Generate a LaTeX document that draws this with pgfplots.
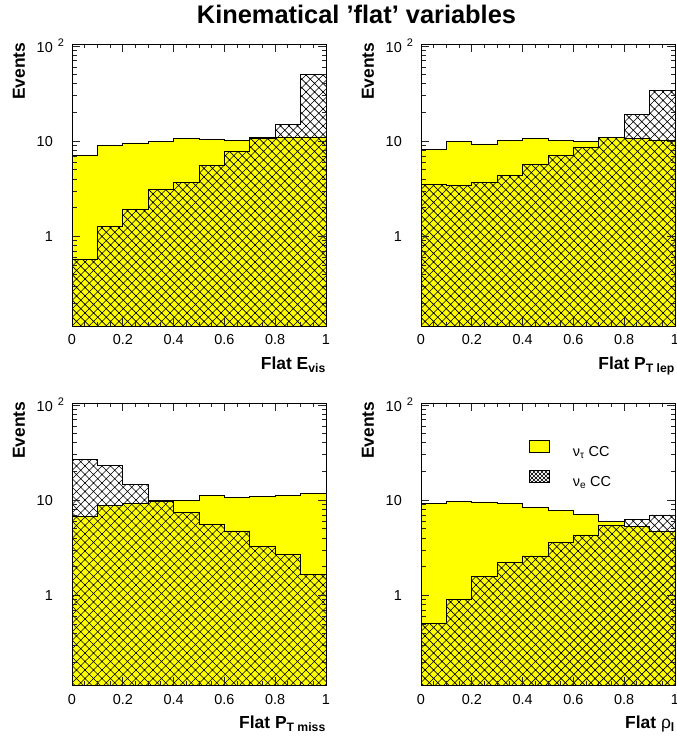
\documentclass[border=0pt]{standalone}
\usepackage{fontspec}
\setmainfont{Liberation Sans}
\usepackage{pgfplots}
\pgfplotsset{compat=1.18}
\usepackage{pgfplotstable}
\usetikzlibrary{patterns}
\definecolor{rootyellow}{RGB}{255,255,0}

\pgfdeclarepatternformonly{bigcross}{\pgfqpoint{-1bp}{-1bp}}{\pgfqpoint{9.5bp}{9.5bp}}{\pgfqpoint{8.5bp}{8.5bp}}{%
  \pgfsetlinewidth{0.7bp}%
  \pgfpathmoveto{\pgfqpoint{-0.5bp}{-0.5bp}}\pgfpathlineto{\pgfqpoint{9bp}{9bp}}%
  \pgfpathmoveto{\pgfqpoint{-0.5bp}{9bp}}\pgfpathlineto{\pgfqpoint{9bp}{-0.5bp}}%
  \pgfusepath{stroke}}
\pgfdeclarepatternformonly{smallcross}{\pgfqpoint{-1bp}{-1bp}}{\pgfqpoint{5bp}{5bp}}{\pgfqpoint{4bp}{4bp}}{%
  \pgfsetlinewidth{0.5bp}%
  \pgfpathmoveto{\pgfqpoint{-0.5bp}{-0.5bp}}\pgfpathlineto{\pgfqpoint{4.5bp}{4.5bp}}%
  \pgfpathmoveto{\pgfqpoint{-0.5bp}{4.5bp}}\pgfpathlineto{\pgfqpoint{4.5bp}{-0.5bp}}%
  \pgfusepath{stroke}}

% bins of width 0.1; last row repeats the last bin to close the step
\pgfplotstableread{
x   ya   ha    yb   hb   yc   hc   yd   hd
0.0 7.07 0.578 8.18 3.50 6.73 26.6 9.17 0.508
0.1 9.07 1.27  10.0 3.42 8.73 23.0 9.70 0.916
0.2 9.60 1.94  9.38 3.70 9.32 14.5 9.60 1.57
0.3 9.93 3.15  10.2 4.39 9.90 9.80 9.32 2.21
0.4 10.7 3.70  10.8 5.69 9.93 7.43 8.46 2.60
0.5 10.4 5.55  10.2 7.13 11.2 5.60 7.80 3.59
0.6 10.2 7.85  9.85 8.52 10.7 4.76 7.07 4.32
0.7 10.9 10.8  11.0 10.9 10.9 3.26 5.97 5.47
0.8 11.1 15.0  10.8 19.1 11.2 2.71 5.28 6.32
0.9 11.1 50.4  10.2 33.9 11.7 1.68 4.68 7.02
1.0 11.1 50.4  10.2 33.9 11.7 1.68 4.68 7.02
}\data

\pgfplotsset{
    log origin y=infty,
    xmin=0, xmax=1, ymin=0.115, ymax=105,
    scale only axis, width=254bp, height=282bp,
    axis on top, tick align=inside,
    xtick={0,0.2,0.4,0.6,0.8,1}, xticklabels={0,0.2,0.4,0.6,0.8,1},
    minor xtick={0.05,0.1,0.15,0.25,0.3,0.35,0.45,0.5,0.55,0.65,0.7,0.75,0.85,0.9,0.95},
    ytick={1,10,100},
    yticklabels={1,10,{10\rlap{\hspace{5bp}\raisebox{6bp}{\fontsize{11}{11}\selectfont 2}}}},
    minor ytick={0.2,0.3,0.4,0.5,0.6,0.7,0.8,0.9,2,3,4,5,6,7,8,9,20,30,40,50,60,70,80,90},
    major tick length=8bp, minor tick length=4.5bp,
    every tick/.style={black!85, line width=0.9bp},
    axis line style={black, line width=0.9bp},
    ticklabel style={font=\fontsize{14.5}{16}\selectfont},
    xticklabel style={anchor=base, inner sep=0pt, yshift=-19bp},
    yticklabel style={anchor=east, inner sep=0pt, xshift=-19bp},
    ylabel={Events},
    ylabel style={at={(axis description cs:-0.209,1.006)}, anchor=east, inner sep=0pt,
      font=\fontsize{17.5}{17.5}\selectfont\bfseries},
    xlabel style={at={(axis description cs:1,-0.156)}, anchor=base east, inner sep=0pt,
      font=\fontsize{17.5}{17.5}\selectfont\bfseries},
}

\begin{document}
\begin{tikzpicture}
\useasboundingbox (0,0) rectangle (677bp,738bp);
\node[font=\fontsize{25.5}{25.5}\selectfont\bfseries] at (356.5bp,724bp) {Kinematical ’flat’ variables};

\begin{semilogyaxis}[anchor=south west, at={(72bp,412bp)}, xlabel={Flat E\textsubscript{vis}}]
\addplot[const plot mark left, fill=rootyellow, draw=black, line width=0.8bp, mark=none]
  table[x=x,y=ya]{\data} \closedcycle;
\addplot[const plot mark left, pattern=bigcross, pattern color=black, draw=black, line width=0.8bp, mark=none]
  table[x=x,y=ha]{\data} \closedcycle;
\end{semilogyaxis}

\begin{semilogyaxis}[anchor=south west, at={(421bp,412bp)}, xlabel={Flat P\textsubscript{T lep}}]
\addplot[const plot mark left, fill=rootyellow, draw=black, line width=0.8bp, mark=none]
  table[x=x,y=yb]{\data} \closedcycle;
\addplot[const plot mark left, pattern=bigcross, pattern color=black, draw=black, line width=0.8bp, mark=none]
  table[x=x,y=hb]{\data} \closedcycle;
\end{semilogyaxis}

\begin{semilogyaxis}[anchor=south west, at={(72bp,53bp)}, xlabel={Flat P\textsubscript{T miss}}]
\addplot[const plot mark left, fill=rootyellow, draw=black, line width=0.8bp, mark=none]
  table[x=x,y=yc]{\data} \closedcycle;
\addplot[const plot mark left, pattern=bigcross, pattern color=black, draw=black, line width=0.8bp, mark=none]
  table[x=x,y=hc]{\data} \closedcycle;
\end{semilogyaxis}

\begin{semilogyaxis}[anchor=south west, at={(421bp,53bp)}, xlabel={Flat {\mdseries ρ}\textsubscript{l}},
  legend style={at={(axis description cs:0.425,0.868)}, anchor=north west, draw=none, fill=none,
    inner sep=0pt, row sep=13bp, font=\fontsize{14.5}{14.5}\selectfont,
    nodes={inner sep=0pt, text depth=0pt},
    /tikz/every even column/.append style={column sep=0bp}},
  legend cell align=left]
\addplot[const plot mark left, fill=rootyellow, draw=black, line width=0.8bp, mark=none,
    legend image code/.code={\draw[fill=rootyellow, draw=black, line width=0.6bp] (0bp,-1bp) rectangle (20bp,11bp); \path (43bp,0bp);}]
  table[x=x,y=yd]{\data} \closedcycle;
\addlegendentry{ν\textsubscript{τ} CC}
\addplot[const plot mark left, pattern=bigcross, pattern color=black, draw=black, line width=0.8bp, mark=none,
    legend image code/.code={\draw[pattern=smallcross, pattern color=black, draw=black, line width=0.6bp] (0bp,-1bp) rectangle (20bp,11bp); \path (43bp,0bp);}]
  table[x=x,y=hd]{\data} \closedcycle;
\addlegendentry{ν\textsubscript{e} CC}
\end{semilogyaxis}
\end{tikzpicture}
\end{document}
